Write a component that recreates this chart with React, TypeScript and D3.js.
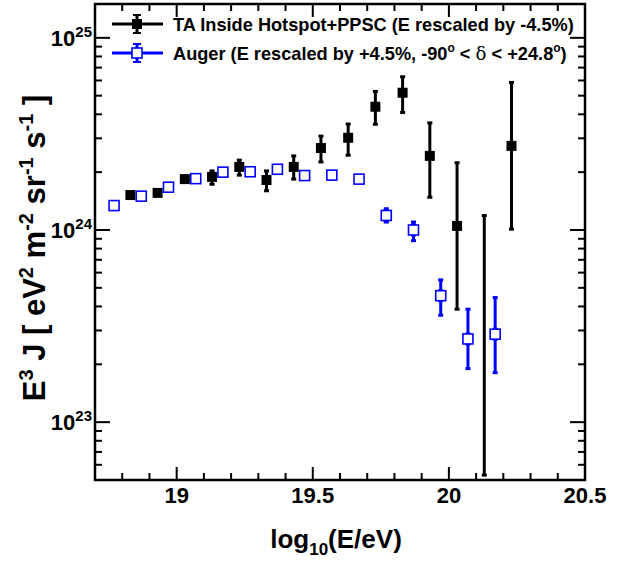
import { useEffect, useRef } from "react";
import * as d3 from "d3";

// TA inside hotspot + PPSC (energy rescaled by -4.5%)
const taLogE = [18.83, 18.93, 19.03, 19.13, 19.23, 19.33, 19.43, 19.53, 19.63, 19.73, 19.83, 19.93, 20.03, 20.13, 20.23];
const taFlux = [1.52e24, 1.56e24, 1.84e24, 1.89e24, 2.13e24, 1.82e24, 2.13e24, 2.67e24, 3.02e24, 4.38e24, 5.18e24, 2.43e24, 1.05e24, null, 2.74e24];
const taLow = [1.45e24, 1.49e24, 1.76e24, 1.73e24, 1.93e24, 1.6e24, 1.84e24, 2.26e24, 2.45e24, 3.55e24, 4.09e24, 1.48e24, 3.87e23, 5.3e22, 1.01e24];
const taHigh = [1.59e24, 1.63e24, 1.92e24, 2.03e24, 2.31e24, 2.03e24, 2.43e24, 3.08e24, 3.56e24, 5.26e24, 6.27e24, 3.61e24, 2.24e24, 1.19e24, 5.86e24];

// Auger (energy rescaled by +4.5%)
const augerLogE = [18.77, 18.87, 18.97, 19.07, 19.17, 19.27, 19.37, 19.47, 19.57, 19.67, 19.77, 19.87, 19.97, 20.07, 20.17];
const augerFlux = [1.34e24, 1.5e24, 1.67e24, 1.85e24, 2.0e24, 2.01e24, 2.07e24, 1.92e24, 1.93e24, 1.84e24, 1.19e24, 1.0e24, 4.55e23, 2.71e23, 2.87e23];
const augerLow = [1.3e24, 1.46e24, 1.63e24, 1.81e24, 1.95e24, 1.95e24, 2.0e24, 1.85e24, 1.85e24, 1.75e24, 1.1e24, 0.88e24, 3.6e23, 1.9e23, 1.81e23];
const augerHigh = [1.38e24, 1.54e24, 1.71e24, 1.89e24, 2.05e24, 2.07e24, 2.14e24, 1.99e24, 2.01e24, 1.93e24, 1.29e24, 1.1e24, 5.5e23, 3.87e23, 4.45e23];

const xTickValues = [19, 19.5, 20, 20.5];
const xTickLabels = ["19", "19.5", "20", "20.5"];
const yTickValues = [1e23, 1e24, 1e25];
const yTickExponents = ["23", "24", "25"];

const FONT = "'Liberation Sans', Arial, Helvetica, sans-serif";
const BLUE = "#0000ff";

export default function App() {
  const svgRef = useRef<SVGSVGElement | null>(null);

  useEffect(() => {
    if (!svgRef.current) return;
    const svg = d3.select(svgRef.current);
    svg.selectAll("*").remove();

    const left = 95, right = 585, top = 4, bottom = 480;
    const x = d3.scaleLinear().domain([18.7, 20.5]).range([left, right]);
    const y = d3.scaleLog().domain([5e22, 1.5e25]).range([bottom, top]);

    // ticks
    const ax = svg.append("g").attr("stroke", "#000").attr("stroke-width", 2);
    d3.range(187, 206).map((d) => d / 10).forEach((v) => {
      const major = Math.abs(v * 2 - Math.round(v * 2)) < 1e-6;
      const len = major ? 13 : 7;
      ax.append("line").attr("x1", x(v)).attr("x2", x(v)).attr("y1", bottom).attr("y2", bottom - len);
      ax.append("line").attr("x1", x(v)).attr("x2", x(v)).attr("y1", top).attr("y2", top + len);
    });
    const yMinor: number[] = [];
    [22, 23, 24].forEach((e) => d3.range(1, 10).forEach((m) => yMinor.push(m * Math.pow(10, e))));
    yMinor.push(1e25);
    yMinor.forEach((v) => {
      if (v < 5e22 || v > 1.5e25) return;
      const major = yTickValues.some((t) => Math.abs(t - v) / t < 1e-6);
      const len = major ? 15 : 7;
      ax.append("line").attr("x1", left).attr("x2", left + len).attr("y1", y(v)).attr("y2", y(v));
      ax.append("line").attr("x1", right).attr("x2", right - len).attr("y1", y(v)).attr("y2", y(v));
    });

    // frame
    svg.append("rect")
      .attr("x", left).attr("y", top)
      .attr("width", right - left).attr("height", bottom - top)
      .attr("fill", "none").attr("stroke", "#000").attr("stroke-width", 2.5);

    // tick labels
    xTickValues.forEach((v, i) => {
      svg.append("text")
        .attr("x", x(v)).attr("y", 503)
        .attr("text-anchor", "middle")
        .style("font-family", FONT).style("font-weight", "bold").style("font-size", "22px")
        .text(xTickLabels[i]);
    });
    yTickValues.forEach((v, i) => {
      const t = svg.append("text")
        .attr("x", 92).attr("y", y(v) + 8)
        .attr("text-anchor", "end")
        .style("font-family", FONT).style("font-weight", "bold").style("font-size", "22px");
      t.append("tspan").text("10");
      t.append("tspan").attr("dy", -9).style("font-size", "15px").text(yTickExponents[i]);
    });

    // axis titles
    const xt = svg.append("text")
      .attr("x", 336).attr("y", 548)
      .attr("text-anchor", "middle")
      .style("font-family", FONT).style("font-weight", "bold").style("font-size", "26px");
    xt.append("tspan").text("log");
    xt.append("tspan").attr("dy", 7).style("font-size", "17px").text("10");
    xt.append("tspan").attr("dy", -7).text("(E/eV)");

    const yt = svg.append("text")
      .attr("transform", "translate(45,248) rotate(-90)")
      .attr("text-anchor", "middle")
      .style("font-family", FONT).style("font-weight", "bold").style("font-size", "31px");
    const parts: [string, boolean][] = [
      ["E", false], ["3", true], [" J [ eV", false], ["2", true], [" m", false], ["-2", true],
      [" sr", false], ["-1", true], [" s", false], ["-1", true], [" ]", false],
    ];
    parts.forEach(([s, sup], i) => {
      const prevSup = i > 0 && parts[i - 1][1];
      const ts = yt.append("tspan").text(s);
      if (sup) ts.attr("dy", -12).style("font-size", "20px");
      else if (prevSup) ts.attr("dy", 12);
    });

    // error bars helper
    const errBar = (g: d3.Selection<SVGGElement, unknown, null, undefined>, cx: number, y1: number, y2: number, color: string) => {
      g.append("line").attr("x1", cx).attr("x2", cx).attr("y1", y1).attr("y2", y2)
        .attr("stroke", color).attr("stroke-width", 3);
      [y1, y2].forEach((yy) => {
        g.append("line").attr("x1", cx - 2.5).attr("x2", cx + 2.5).attr("y1", yy).attr("y2", yy)
          .attr("stroke", color).attr("stroke-width", 3);
      });
    };

    const ms = 10;
    // Auger
    const ga = svg.append("g");
    augerLogE.forEach((e, i) => {
      const cx = x(e), cy = y(augerFlux[i]);
      const yHi = y(augerHigh[i]), yLo = y(augerLow[i]);
      if (yHi < cy - ms / 2) errBar(ga, cx, yHi, cy - ms / 2, BLUE);
      if (yLo > cy + ms / 2) errBar(ga, cx, cy + ms / 2, Math.min(yLo, bottom - 2), BLUE);
      ga.append("rect").attr("x", cx - ms / 2).attr("y", cy - ms / 2).attr("width", ms).attr("height", ms)
        .attr("fill", "#fff").attr("stroke", BLUE).attr("stroke-width", 1.6);
    });

    // TA
    const gt = svg.append("g");
    taLogE.forEach((e, i) => {
      const cx = x(e);
      const yHi = y(taHigh[i]), yLo = Math.min(y(taLow[i]), bottom - 4);
      if (yLo - yHi > ms) errBar(gt, cx, yHi, yLo, "#000");
      const f = taFlux[i];
      if (f != null) {
        gt.append("rect").attr("x", cx - ms / 2).attr("y", y(f) - ms / 2).attr("width", ms).attr("height", ms)
          .attr("fill", "#000");
      }
    });

    // legend
    const lg = svg.append("g");
    const rows = [
      { cy: 24, color: "#000", filled: true },
      { cy: 53, color: BLUE, filled: false },
    ];
    rows.forEach((r) => {
      lg.append("line").attr("x1", 112).attr("x2", 163).attr("y1", r.cy).attr("y2", r.cy)
        .attr("stroke", r.color).attr("stroke-width", 3);
      lg.append("line").attr("x1", 137).attr("x2", 137).attr("y1", r.cy - 9).attr("y2", r.cy + 9)
        .attr("stroke", r.color).attr("stroke-width", 3);
      [r.cy - 9, r.cy + 9].forEach((yy) =>
        lg.append("line").attr("x1", 133).attr("x2", 141).attr("y1", yy).attr("y2", yy)
          .attr("stroke", r.color).attr("stroke-width", 2));
      lg.append("rect").attr("x", 137 - ms / 2).attr("y", r.cy - ms / 2).attr("width", ms).attr("height", ms)
        .attr("fill", r.filled ? "#000" : "#fff").attr("stroke", r.color).attr("stroke-width", r.filled ? 0 : 1.6);
    });
    const t1 = lg.append("text").attr("x", 173).attr("y", 30.5)
      .style("font-family", FONT).style("font-weight", "bold").style("font-size", "18.2px");
    t1.text("TA Inside Hotspot+PPSC (E rescaled by -4.5%)");
    const t2 = lg.append("text").attr("x", 173).attr("y", 59.5)
      .style("font-family", FONT).style("font-weight", "bold").style("font-size", "18.2px");
    t2.append("tspan").text("Auger (E rescaled by +4.5%, -90");
    t2.append("tspan").attr("dy", -8).style("font-size", "12px").text("o");
    t2.append("tspan").attr("dy", 8).text(" < ");
    t2.append("tspan").style("font-weight", "normal").style("font-family", "'DejaVu Serif', serif").text("δ");
    t2.append("tspan").text(" < +24.8");
    t2.append("tspan").attr("dy", -8).style("font-size", "12px").text("o");
    t2.append("tspan").attr("dy", 8).text(")");
  }, []);

  return (
    <svg
      ref={svgRef}
      width={626}
      height={565}
      style={{ position: "absolute", left: 0, top: 0, background: "#fff" }}
    />
  );
}
